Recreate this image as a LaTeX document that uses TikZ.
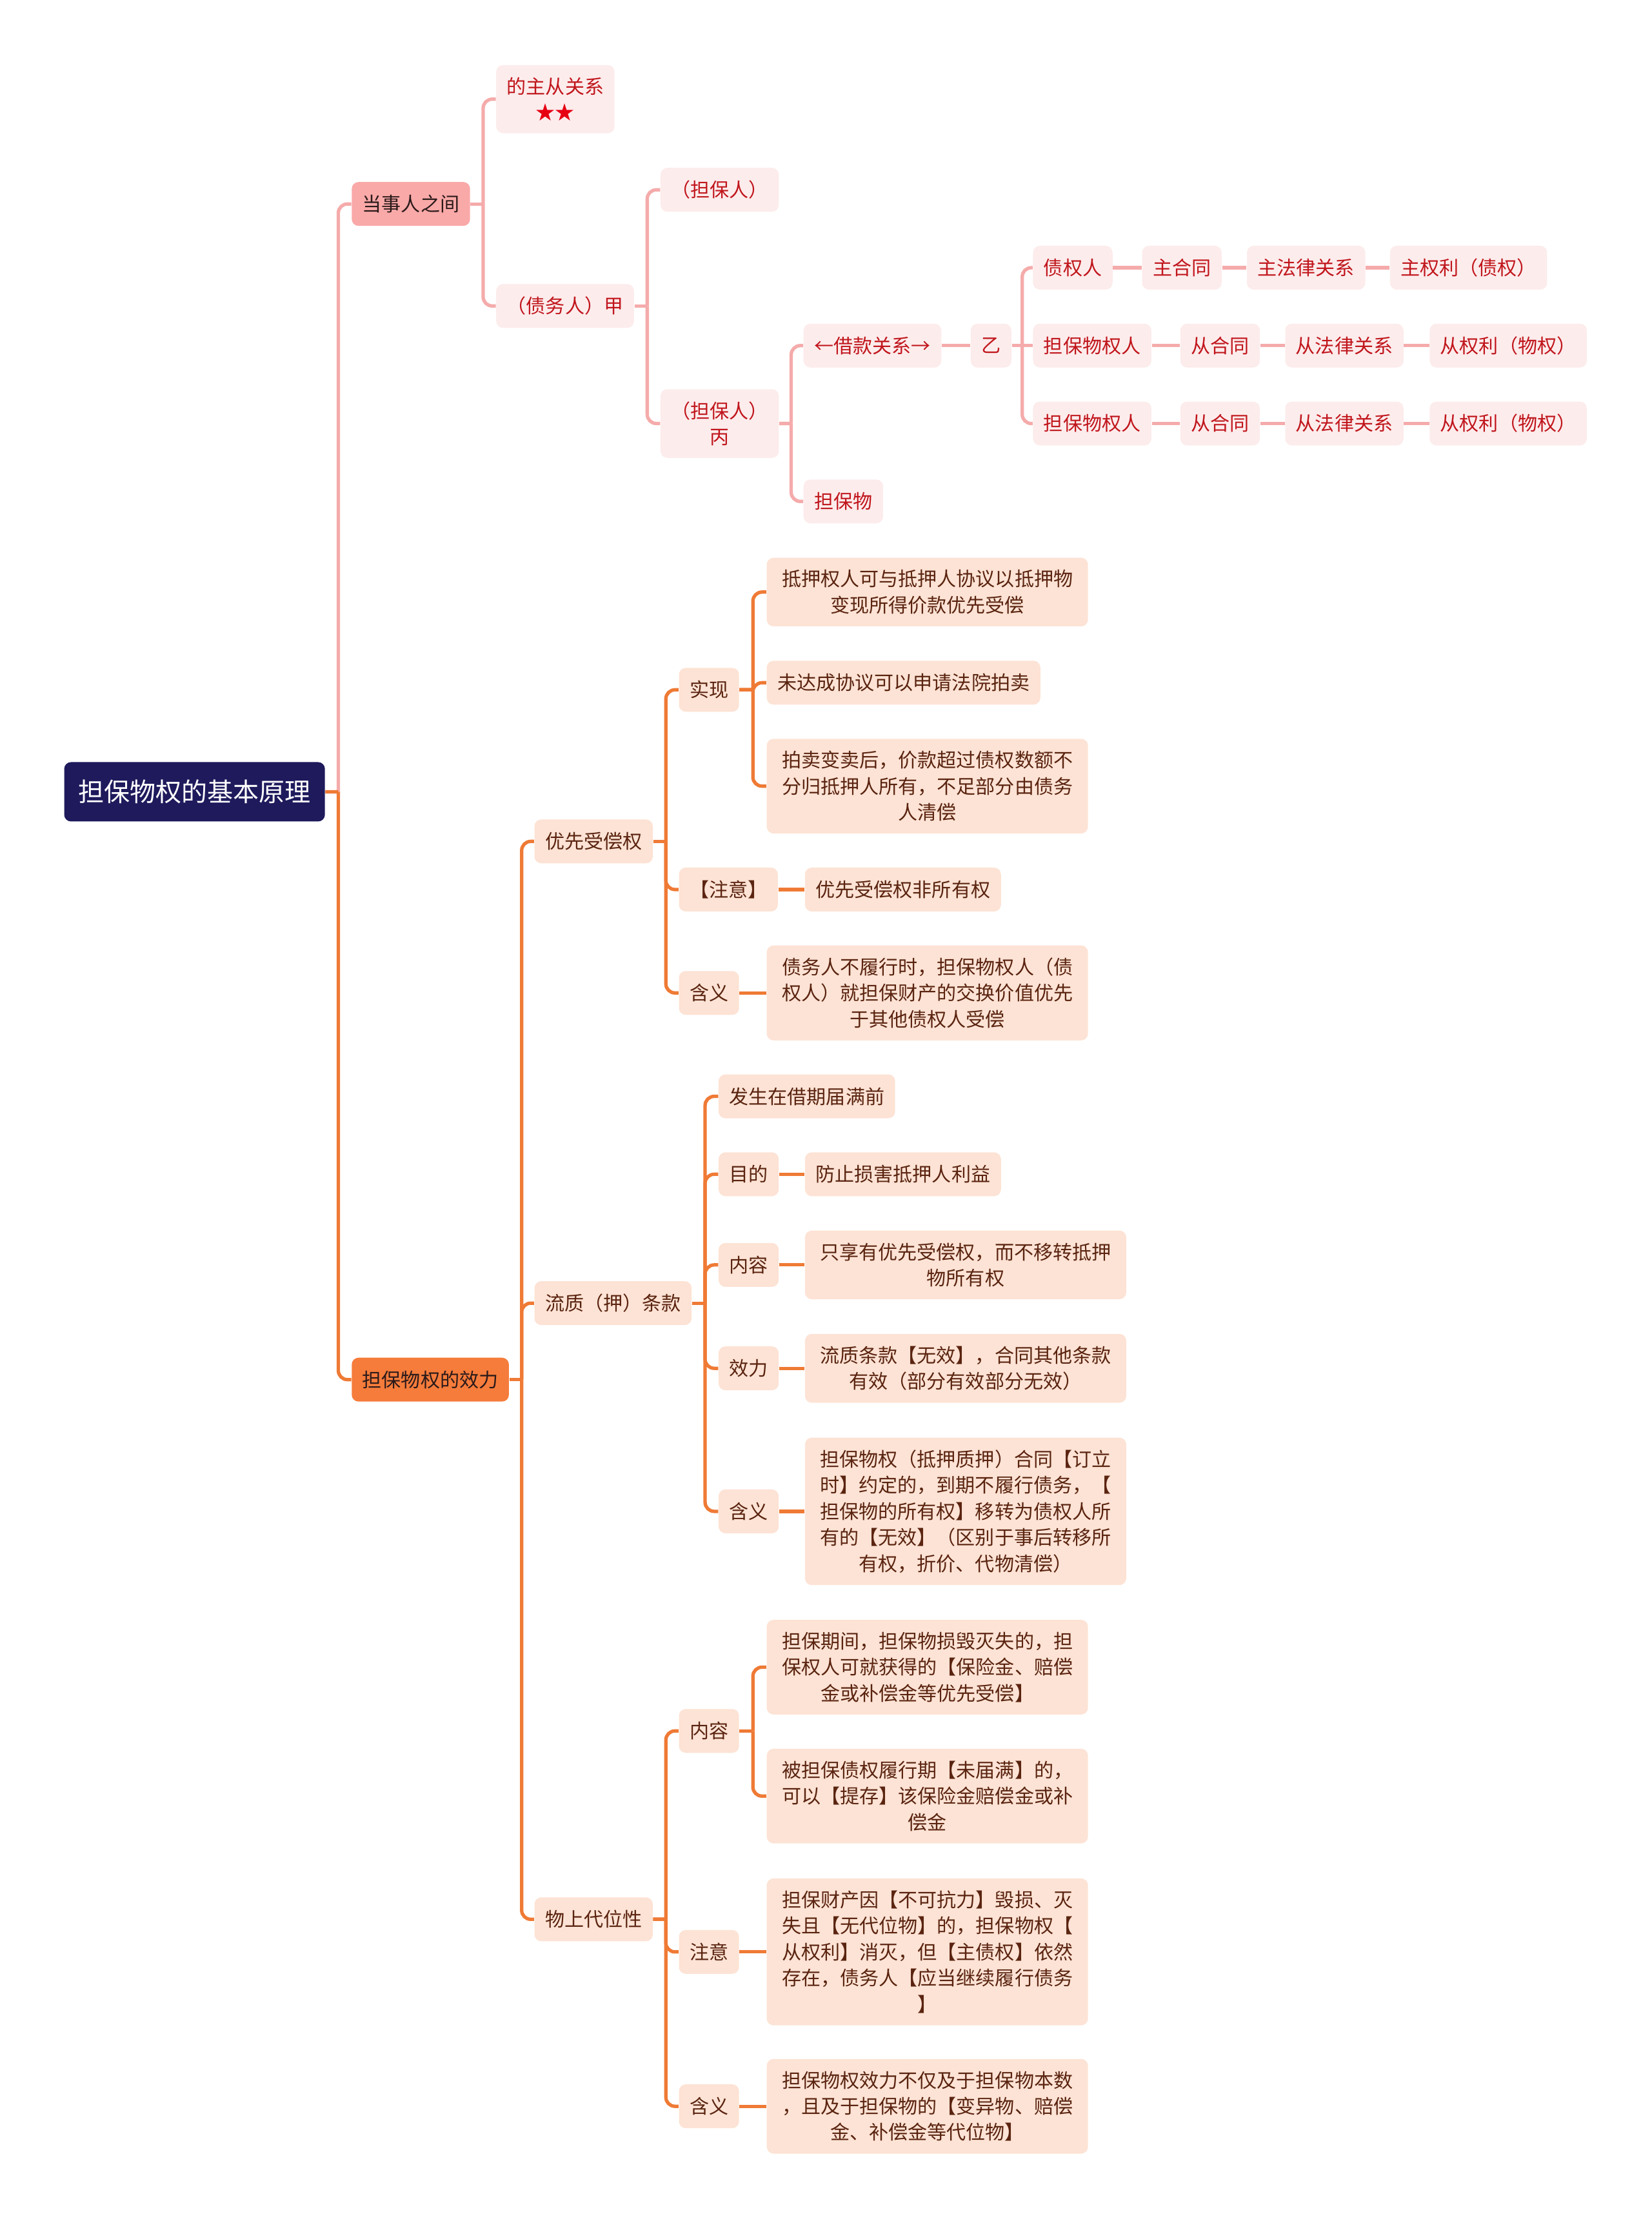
\documentclass[tikz,border=0pt]{standalone}
\usepackage{fontspec}
\setmainfont{Noto Sans CJK SC}
\usetikzlibrary{calc}
\definecolor{cnavy}{HTML}{1E1A5C}
\definecolor{cpinkA}{HTML}{F9A9A8}
\definecolor{cpinkB}{HTML}{FDECEC}
\definecolor{cpinkline}{HTML}{F5ABAB}
\definecolor{cred}{HTML}{C0161C}
\definecolor{cstar}{HTML}{E60012}
\definecolor{cdark}{HTML}{2B1A1A}
\definecolor{corangeA}{HTML}{F57C3B}
\definecolor{corangeB}{HTML}{FDE3D5}
\definecolor{corangeline}{HTML}{EF7A35}
\definecolor{cbrown}{HTML}{5A2410}
\begin{document}
\begin{tikzpicture}[
  x=0.021955cm, y=-0.021955cm,
  every node/.style={font=\fontsize{8.56pt}{11.5pt}\selectfont, anchor=west, align=center,
    rounded corners=3pt, inner xsep=4.7pt, inner ysep=5.4pt, minimum height=0.68cm},
  rootnode/.style={fill=cnavy, text=white, font=\fontsize{11.4pt}{14pt}\selectfont,
    inner xsep=6.2pt, minimum height=0.92cm},
  pinkmain/.style={fill=cpinkA, text=cdark},
  pinksub/.style={fill=cpinkB, text=cred},
  orangemain/.style={fill=corangeA, text=cdark},
  orangesub/.style={fill=corangeB, text=cbrown},
  widebox/.style={orangesub, minimum width=4.98cm},
  pinkedge/.style={cpinkline, line width=1.5pt},
  orangeedge/.style={corangeline, line width=1.5pt}
]
\useasboundingbox (0,0) rectangle (1166,1568);
% root and main branches
\node[rootnode] (root) at (45,559) {担保物权的基本原理};
\node[pinkmain] (dsr) at (248,144) {当事人之间};
\node[orangemain] (xl) at (248,974) {担保物权的效力};
% parties
\node[pinksub] (zc) at (350,70) {的主从关系\\{\color{cstar}★★}};
\node[pinksub] (jia) at (350,216) {（债务人）甲};
\node[pinksub] (dbr) at (466,134) {（担保人）};
\node[pinksub] (bing) at (466,299) {（担保人）\\丙};
\node[pinksub] (jk) at (567,244) {←借款关系→};
\node[pinksub] (dbw) at (567,354) {担保物};
\node[pinksub] (yi) at (685,244) {乙};
\node[pinksub] (zqr) at (729,189) {债权人};
\node[pinksub] (wqr1) at (729,244) {担保物权人};
\node[pinksub] (wqr2) at (729,299) {担保物权人};
\node[pinksub] (zht) at (806,189) {主合同};
\node[pinksub] (zfl) at (880,189) {主法律关系};
\node[pinksub] (zql) at (981,189) {主权利（债权）};
\node[pinksub] (cht1) at (833,244) {从合同};
\node[pinksub] (cfl1) at (907,244) {从法律关系};
\node[pinksub] (cql1) at (1009,244) {从权利（物权）};
\node[pinksub] (cht2) at (833,299) {从合同};
\node[pinksub] (cfl2) at (907,299) {从法律关系};
\node[pinksub] (cql2) at (1009,299) {从权利（物权）};
% effects
\node[orangesub] (yx) at (377,594) {优先受偿权};
\node[orangesub] (lz) at (377,920) {流质（押）条款};
\node[orangesub] (dw) at (377,1355) {物上代位性};
\node[orangesub] (sx) at (479,487) {实现};
\node[orangesub] (zy1) at (479,628) {【注意】};
\node[orangesub] (hy1) at (479,701) {含义};
\node[widebox] (sx1) at (541,418) {抵押权人可与抵押人协议以抵押物\\变现所得价款优先受偿};
\node[orangesub] (sx2) at (541,482) {未达成协议可以申请法院拍卖};
\node[widebox] (sx3) at (541,555) {拍卖变卖后，价款超过债权数额不\\分归抵押人所有，不足部分由债务\\人清偿};
\node[orangesub] (zy1a) at (568,628) {优先受偿权非所有权};
\node[widebox] (hy1a) at (541,701) {债务人不履行时，担保物权人（债\\权人）就担保财产的交换价值优先\\于其他债权人受偿};
\node[orangesub] (fs) at (507,774) {发生在借期届满前};
\node[orangesub] (md) at (507,829) {目的};
\node[orangesub] (nr) at (507,893) {内容};
\node[orangesub] (xlz) at (507,966) {效力};
\node[orangesub] (hy2) at (507,1067) {含义};
\node[orangesub] (mda) at (568,829) {防止损害抵押人利益};
\node[widebox] (nra) at (568,893) {只享有优先受偿权，而不移转抵押\\物所有权};
\node[widebox] (xla) at (568,966) {流质条款【无效】，合同其他条款\\有效（部分有效部分无效）};
\node[widebox] (hy2a) at (568,1067) {担保物权（抵押质押）合同【订立\\时】约定的，到期不履行债务，【\\担保物的所有权】移转为债权人所\\有的【无效】（区别于事后转移所\\有权，折价、代物清偿）};
\node[orangesub] (nr3) at (479,1222) {内容};
\node[orangesub] (zy3) at (479,1378) {注意};
\node[orangesub] (hy3) at (479,1487) {含义};
\node[widebox] (nr3a) at (541,1177) {担保期间，担保物损毁灭失的，担\\保权人可就获得的【保险金、赔偿\\金或补偿金等优先受偿】};
\node[widebox] (nr3b) at (541,1268) {被担保债权履行期【未届满】的，\\可以【提存】该保险金赔偿金或补\\偿金};
\node[widebox] (zy3a) at (541,1378) {担保财产因【不可抗力】毁损、灭\\失且【无代位物】的，担保物权【\\从权利】消灭，但【主债权】依然\\存在，债务人【应当继续履行债务\\】};
\node[widebox] (hy3a) at (541,1487) {担保物权效力不仅及于担保物本数\\，且及于担保物的【变异物、赔偿\\金、补偿金等代位物】};
% elbow connectors
\foreach \p/\c/\s in {root/dsr/pinkedge, dsr/zc/pinkedge, dsr/jia/pinkedge,
    jia/dbr/pinkedge, jia/bing/pinkedge, bing/jk/pinkedge, bing/dbw/pinkedge,
    yi/zqr/pinkedge, yi/wqr2/pinkedge,
    root/xl/orangeedge, xl/yx/orangeedge, xl/lz/orangeedge, xl/dw/orangeedge,
    yx/sx/orangeedge, yx/zy1/orangeedge, yx/hy1/orangeedge,
    sx/sx1/orangeedge, sx/sx2/orangeedge, sx/sx3/orangeedge,
    lz/fs/orangeedge, lz/md/orangeedge, lz/nr/orangeedge, lz/xlz/orangeedge, lz/hy2/orangeedge,
    dw/nr3/orangeedge, dw/zy3/orangeedge, dw/hy3/orangeedge,
    nr3/nr3a/orangeedge, nr3/nr3b/orangeedge} {
  \coordinate (m) at ($(\p.east)!.5!(\p.east -| \c.west)$);
  \draw[\s] (\p.east) -- (m);
  \draw[\s, rounded corners=4pt] (m) |- (\c.west);
}
% straight connectors
\foreach \p/\c/\s in {jk/yi/pinkedge, yi/wqr1/pinkedge,
    zqr/zht/pinkedge, zht/zfl/pinkedge, zfl/zql/pinkedge,
    wqr1/cht1/pinkedge, cht1/cfl1/pinkedge, cfl1/cql1/pinkedge,
    wqr2/cht2/pinkedge, cht2/cfl2/pinkedge, cfl2/cql2/pinkedge,
    zy1/zy1a/orangeedge, hy1/hy1a/orangeedge, md/mda/orangeedge, nr/nra/orangeedge,
    xlz/xla/orangeedge, hy2/hy2a/orangeedge, zy3/zy3a/orangeedge, hy3/hy3a/orangeedge}
  \draw[\s] (\p.east) -- (\p.east -| \c.west);
\end{tikzpicture}
\end{document}
